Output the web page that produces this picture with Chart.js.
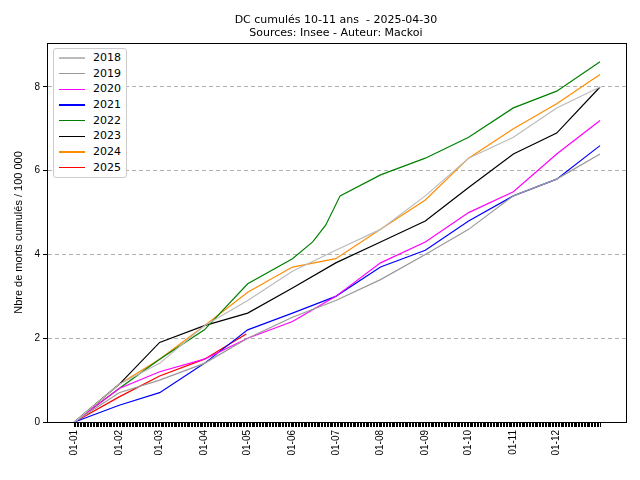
<!DOCTYPE html>
<html><head><meta charset="utf-8">
<script src="https://cdn.jsdelivr.net/npm/chart.js@4/dist/chart.umd.min.js"></script>
<style>
body{margin:0;background:#fff;font-family:"DejaVu Sans",sans-serif}
#wrap{position:relative;width:640px;height:480px}
#title{position:absolute;top:13px;left:47px;width:578px;text-align:center;font-size:11px;line-height:13px;color:#000}
#legend{position:absolute;left:53px;top:48px;border:1px solid #ccc;border-radius:3px;background:#fff;padding:1px 5px;font-size:11px}
#legend div{height:15.7px;line-height:15.7px;white-space:nowrap}
#legend span{display:inline-block;width:26px;height:1.3px;vertical-align:middle;margin-right:8px}
</style></head>
<body><div id="wrap">
<canvas id="c" width="640" height="480"></canvas>
<div id="title">DC cumulés 10-11 ans&nbsp; - 2025-04-30<br>Sources: Insee - Auteur: Mackoi</div>
<div id="legend"></div>
</div>
<script>
// jours (jour de l'année) aux débuts de mois
const days = [1, 32, 60, 91, 121, 152, 182, 213, 244, 274, 305, 335, 365];
const monthLabels = ['01-01','01-02','01-03','01-04','01-05','01-06','01-07','01-08','01-09','01-10','01-11','01-12'];

const y2018 = [0, 0.9, 1.4, 2.3, 2.9, 3.6, 4.1, 4.6, 5.4, 6.3, 6.8, 7.5, 8.0];
const y2019 = [0, 0.7, 1.0, 1.4, 2.0, 2.5, 2.9, 3.4, 4.0, 4.6, 5.4, 5.8, 6.4];
const y2020 = [0, 0.8, 1.2, 1.5, 2.0, 2.4, 3.0, 3.8, 4.3, 5.0, 5.5, 6.4, 7.2];
const y2021 = [0, 0.4, 0.7, 1.4, 2.2, 2.6, 3.0, 3.7, 4.1, 4.8, 5.4, 5.8, 6.6];
const days2022 = [1, 32, 60, 91, 121, 152, 166, 175, 185, 213, 244, 274, 305, 335, 365];
const y2022 = [0, 0.8, 1.5, 2.2, 3.3, 3.9, 4.3, 4.7, 5.4, 5.9, 6.3, 6.8, 7.5, 7.9, 8.6];
const y2023 = [0, 0.9, 1.9, 2.3, 2.6, 3.2, 3.8, 4.3, 4.8, 5.6, 6.4, 6.9, 8.0];
const y2024 = [0, 0.9, 1.5, 2.3, 3.1, 3.7, 3.9, 4.6, 5.3, 6.3, 7.0, 7.6, 8.3];
const days2025 = [1, 32, 60, 91, 120];
const y2025 = [0, 0.6, 1.1, 1.5, 2.1];

const series = [
  ['2018', days, y2018, '#bbbbbb'],
  ['2019', days, y2019, '#999999'],
  ['2020', days, y2020, '#ff00ff'],
  ['2021', days, y2021, '#0000ff'],
  ['2022', days2022, y2022, '#008000'],
  ['2023', days, y2023, '#000000'],
  ['2024', days, y2024, '#ff8c00'],
  ['2025', days2025, y2025, '#ff0000']
];

const datasets = series.map(([label, xs, ys, color]) => ({
  label, borderColor: color, borderWidth: 1.2, pointRadius: 0, tension: 0,
  data: xs.map((x, i) => ({ x, y: ys[i] }))
}));

document.getElementById('legend').innerHTML = series.map(s =>
  `<div><span style="background:${s[3]}"></span>${s[0]}</div>`).join('');

const frame = {
  id: 'frame',
  afterDraw(chart) {
    const { ctx, chartArea: a } = chart;
    ctx.save(); ctx.strokeStyle = '#000'; ctx.lineWidth = 1;
    ctx.strokeRect(a.left + 0.5, a.top + 0.5, a.right - a.left, a.bottom - a.top);
    ctx.restore();
  }
};

new Chart(document.getElementById('c'), {
  type: 'line',
  data: { datasets },
  options: {
    responsive: false, animation: false,
    layout: { padding: { top: 43, right: 14, left: 0 } },
    plugins: { legend: { display: false }, tooltip: { enabled: false } },
    scales: {
      x: {
        type: 'linear', min: -18, max: 383,
        afterBuildTicks: s => { s.ticks = []; for (let d = 1; d <= 365; d++) s.ticks.push({ value: d }); },
        afterFit: s => { s.height = 58; },
        ticks: {
          autoSkip: false, maxRotation: 90, minRotation: 90, color: '#000', font: { size: 10 },
          callback: v => { const i = days.indexOf(v); return i >= 0 && i < 12 ? monthLabels[i] : ''; }
        },
        grid: { drawOnChartArea: false, color: '#000', tickLength: 5 },
        border: { color: '#000' }
      },
      y: {
        min: 0, max: 9.05,
        afterBuildTicks: s => { s.ticks = [0, 2, 4, 6, 8].map(v => ({ value: v })); },
        afterFit: s => { s.width = 47; },
        title: { display: true, text: 'Nbre de morts cumulés / 100 000', color: '#000', font: { size: 11 }, padding: { top: 12, bottom: 0 } },
        ticks: { color: '#000', font: { size: 10 } },
        grid: { color: '#b0b0b0', tickColor: '#000', tickLength: 4 },
        border: { color: '#000', dash: [4, 3] }
      }
    }
  },
  plugins: [frame]
});
</script>
</body></html>
